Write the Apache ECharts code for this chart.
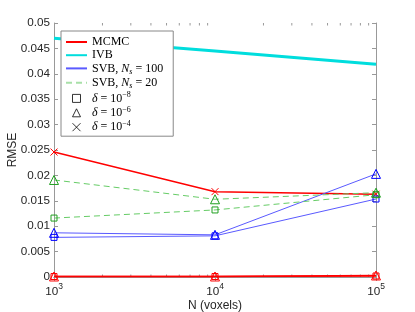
<!DOCTYPE html>
<html>
<head>
<meta charset="utf-8">
<script src="https://cdn.jsdelivr.net/npm/echarts@6/dist/echarts.min.js"></script>
<style>html,body{margin:0;padding:0;background:#fff}#c{width:415px;height:312px}</style>
</head>
<body>
<div id="c"></div>
<script>
// ---- data ----
const xN = [1000, 10000, 100000];
const xTickExps = ['3', '4', '5'];
const yTickInterval = 0.005;
const xMinorTicks = [2000, 3000, 4000, 5000, 6000, 7000, 8000, 9000,
                     20000, 30000, 40000, 50000, 60000, 70000, 80000, 90000];

const mcmc_d8 = [0.0001, 0.0001, 0.0002];
const mcmc_d6 = [0.0001, 0.0001, 0.0003];
const mcmc_d4 = [0.0246, 0.0168, 0.0163];
const ivb = [0.0470, 0.0445, 0.0419];
const svb100_d8 = [0.0078, 0.0081, 0.01535];
const svb100_d6 = [0.0087, 0.0083, 0.0203];
const svb20_d8 = [0.0116, 0.0132, 0.0162];
const svb20_d6 = [0.0191, 0.0153, 0.0166];

const legendNames = ['MCMC', 'IVB', 'SVB100', 'SVB20', 'd8', 'd6', 'd4'];

// ---- styles ----
const RED = '#ff0000', CYAN = '#00dddd', BLUE = '#0000ff', BLUE_L = '#5a5aff', GREEN = '#20a020', GREEN_L = '#66cc66';
const AX = '#999999', TXT = '#262626';
const CROSS = 'path://M0,0L10,10M10,0L0,10';

function pts(arr) { return xN.map((x, i) => [x, arr[i]]); }

function dataSeries(name, arr, lineColor, lineWidth, lineType, symbol, symSize, markColor) {
  return {
    name: name, type: 'line', data: pts(arr),
    xAxisIndex: 0, yAxisIndex: 0,
    symbol: symbol || 'none', symbolSize: symSize || 0, showSymbol: !!symbol,
    lineStyle: { color: lineColor, width: lineWidth, type: lineType || 'solid' },
    itemStyle: { color: 'transparent', borderColor: markColor || lineColor, borderWidth: 1 },
    emphasis: { disabled: true }, silent: true, animation: false, z: 3
  };
}
function legendSeries(name, lineColor, lineWidth, lineType, symbol) {
  return {
    name: name, type: 'line', data: [],
    symbol: symbol || 'circle', symbolSize: 8,
    lineStyle: { color: lineColor, width: lineWidth, type: lineType || 'solid' },
    itemStyle: symbol ? { color: 'transparent', borderColor: '#000', borderWidth: 0.8 }
                      : { color: 'transparent', borderColor: 'transparent', borderWidth: 0 },
    animation: false
  };
}

const series = [
  dataSeries('mcmc_d8', mcmc_d8, RED, 1.5, 'solid', 'rect', 6, RED),
  dataSeries('mcmc_d6', mcmc_d6, RED, 1.5, 'solid', 'triangle', 9, RED),
  dataSeries('mcmc_d4', mcmc_d4, RED, 1.5, 'solid', CROSS, 7, RED),
  dataSeries('ivb', ivb, CYAN, 3, 'solid'),
  dataSeries('svb100_d8', svb100_d8, BLUE_L, 1, 'solid', 'rect', 6, BLUE),
  dataSeries('svb100_d6', svb100_d6, BLUE_L, 1, 'solid', 'triangle', 9, BLUE),
  dataSeries('svb20_d8', svb20_d8, GREEN_L, 1, [6, 4], 'rect', 6, GREEN),
  dataSeries('svb20_d6', svb20_d6, GREEN_L, 1, [6, 4], 'triangle', 9, GREEN),
  legendSeries('MCMC', RED, 1.5, 'solid'),
  legendSeries('IVB', CYAN, 3, 'solid'),
  legendSeries('SVB100', BLUE_L, 1, 'solid'),
  legendSeries('SVB20', '#a8e0a8', 1.5, [6, 4]),
  legendSeries('d8', 'transparent', 1, 'solid', 'rect'),
  legendSeries('d6', 'transparent', 1, 'solid', 'triangle'),
  legendSeries('d4', 'transparent', 1, 'solid', CROSS),
  {
    type: 'custom', name: 'minorTicks', xAxisIndex: 0, yAxisIndex: 0,
    data: xMinorTicks.map(v => [v, 0]), silent: true, animation: false, clip: false, z: 1,
    renderItem: function (params, api) {
      const x = api.coord([api.value(0), 0])[0];
      const cs = params.coordSys;
      const st = { stroke: AX, lineWidth: 1 };
      return { type: 'group', children: [
        { type: 'line', shape: { x1: x, y1: cs.y + cs.height, x2: x, y2: cs.y + cs.height - 2.5 }, style: st },
        { type: 'line', shape: { x1: x, y1: cs.y, x2: x, y2: cs.y + 2.5 }, style: st }
      ]};
    }
  }
];

const legendLabels = {
  MCMC: '{t|MCMC}',
  IVB: '{t|IVB}',
  SVB100: '{t|SVB, }{i|N}{sub|s}{t| = 100}',
  SVB20: '{t|SVB, }{i|N}{sub|s}{t| = 20}',
  d8: '{i|δ}{t| = 10}{sup|−8}',
  d6: '{i|δ}{t| = 10}{sup|−6}',
  d4: '{i|δ}{t| = 10}{sup|−4}'
};
const SERIF = 'Liberation Serif';

const xAxisBase = {
  type: 'log', logBase: 10, min: xN[0], max: xN[xN.length - 1],
  axisLine: { show: true, lineStyle: { color: AX, width: 1 } },
  axisTick: { show: true, inside: true, length: 4, lineStyle: { color: AX } },
  splitLine: { show: false }, minorTick: { show: false }
};
const yAxisBase = {
  type: 'value', min: 0, max: 0.05, interval: yTickInterval,
  axisLine: { show: true, lineStyle: { color: AX, width: 1 } },
  axisTick: { show: true, inside: true, length: 4, lineStyle: { color: AX } },
  splitLine: { show: false }
};

const legendData = legendNames.map(n => {
  const o = { name: n };
  if (n.charAt(0) === 'd') o.itemStyle = { color: 'transparent', borderColor: '#000', borderWidth: 0.8 };
  return o;
});

const option = {
  animation: false,
  backgroundColor: '#ffffff',
  grid: { left: 54, right: 39, top: 23, bottom: 35, containLabel: false, outerBoundsMode: 'none' },
  xAxis: [
    Object.assign({}, xAxisBase, {
      position: 'bottom',
      name: 'N (voxels)', nameLocation: 'middle', nameGap: 22.5, nameMoveOverlap: false,
      nameTextStyle: { fontFamily: 'Liberation Sans', fontSize: 12, color: TXT, verticalAlign: 'top' },
      axisLabel: {
        margin: 5,
        formatter: function (v) {
          const i = xN.indexOf(v);
          if (i < 0) return '';
          return '{b|10}{s|' + xTickExps[i] + '}';
        },
        rich: {
          b: { fontFamily: 'Liberation Sans', fontSize: 11.7, color: TXT, lineHeight: 16, verticalAlign: 'bottom' },
          s: { fontFamily: 'Liberation Sans', fontSize: 8.5, color: TXT, lineHeight: 16, verticalAlign: 'top' }
        }
      }
    }),
    Object.assign({}, xAxisBase, { position: 'top', axisLabel: { show: false } })
  ],
  yAxis: [
    Object.assign({}, yAxisBase, {
      position: 'left',
      name: 'RMSE', nameLocation: 'middle', nameGap: 35.5, nameRotate: 90, nameMoveOverlap: false,
      nameTextStyle: { fontFamily: 'Liberation Sans', fontSize: 12, color: TXT },
      axisLabel: { margin: 4, fontFamily: 'Liberation Sans', fontSize: 11.7, color: TXT }
    }),
    Object.assign({}, yAxisBase, { position: 'right', axisLabel: { show: false } })
  ],
  legend: {
    show: true, orient: 'vertical', left: 61, top: 31,
    data: legendData,
    itemWidth: 21, itemHeight: 10, itemGap: 1.2,
    padding: [5, 10, 3, 4],
    backgroundColor: '#ffffff', borderColor: '#888888', borderWidth: 1, borderRadius: 0,
    selectedMode: false,
    formatter: function (name) { return legendLabels[name]; },
    textStyle: {
      fontFamily: SERIF, fontSize: 12, color: '#000',
      rich: {
        t: { fontFamily: SERIF, fontSize: 12, color: '#000', lineHeight: 14.4, verticalAlign: 'middle' },
        i: { fontFamily: SERIF, fontSize: 12, fontStyle: 'italic', color: '#000', lineHeight: 14.4, verticalAlign: 'middle' },
        sub: { fontFamily: SERIF, fontSize: 8, fontStyle: 'italic', color: '#000', lineHeight: 8, verticalAlign: 'bottom' },
        sup: { fontFamily: SERIF, fontSize: 8, color: '#000', lineHeight: 8, verticalAlign: 'top' }
      }
    }
  },
  series: series
};

const chart = echarts.init(document.getElementById('c'), null, { renderer: 'canvas' });
chart.setOption(option);
</script>
</body>
</html>
